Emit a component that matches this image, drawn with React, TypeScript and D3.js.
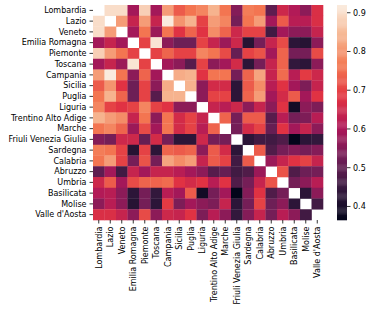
import * as d3 from "d3";

const regions = [
  "Lombardia", "Lazio", "Veneto", "Emilia Romagna", "Piemonte", "Toscana",
  "Campania", "Sicilia", "Puglia", "Liguria", "Trentino Alto Adige", "Marche",
  "Friuli Venezia Giulia", "Sardegna", "Calabria", "Abruzzo", "Umbria",
  "Basilicata", "Molise", "Valle d'Aosta",
];

// upper triangle: row i = correlation of region i with regions i+1..end
const upper: number[][] = [
  [0.90, 0.90, 0.59, 0.88, 0.59, 0.81, 0.73, 0.76, 0.78, 0.84, 0.76, 0.55, 0.77, 0.76, 0.50, 0.65, 0.61, 0.56, 0.67],
  [0.81, 0.64, 0.81, 0.64, 0.92, 0.80, 0.84, 0.70, 0.81, 0.78, 0.53, 0.76, 0.81, 0.59, 0.73, 0.62, 0.62, 0.67],
  [0.59, 0.76, 0.58, 0.76, 0.68, 0.74, 0.68, 0.79, 0.74, 0.65, 0.70, 0.70, 0.46, 0.59, 0.56, 0.56, 0.64],
  [0.70, 0.91, 0.56, 0.52, 0.52, 0.70, 0.64, 0.58, 0.65, 0.42, 0.53, 0.64, 0.71, 0.43, 0.42, 0.56],
  [0.70, 0.74, 0.70, 0.70, 0.78, 0.76, 0.71, 0.51, 0.70, 0.72, 0.59, 0.74, 0.53, 0.53, 0.71],
  [0.59, 0.56, 0.49, 0.70, 0.56, 0.59, 0.66, 0.43, 0.53, 0.64, 0.74, 0.44, 0.43, 0.56],
  [0.83, 0.84, 0.68, 0.76, 0.76, 0.53, 0.74, 0.82, 0.64, 0.75, 0.62, 0.69, 0.65],
  [0.84, 0.56, 0.66, 0.66, 0.43, 0.73, 0.79, 0.62, 0.68, 0.59, 0.54, 0.64],
  [0.56, 0.70, 0.70, 0.43, 0.74, 0.81, 0.59, 0.66, 0.73, 0.59, 0.68],
  [0.64, 0.62, 0.65, 0.56, 0.64, 0.56, 0.68, 0.39, 0.56, 0.54],
  [0.74, 0.53, 0.73, 0.73, 0.49, 0.62, 0.53, 0.54, 0.62],
  [0.53, 0.66, 0.70, 0.51, 0.68, 0.59, 0.64, 0.56],
  [0.43, 0.46, 0.46, 0.48, 0.365, 0.43, 0.44],
  [0.73, 0.48, 0.53, 0.55, 0.53, 0.55],
  [0.58, 0.64, 0.68, 0.70, 0.64],
  [0.72, 0.48, 0.52, 0.53],
  [0.53, 0.56, 0.62],
  [0.43, 0.56],
  [0.46],
  [],
];

const colorbarTicks = [0.4, 0.5, 0.6, 0.7, 0.8, 0.9];

// seaborn "rocket"
const rocketStops = ["#03051a", "#35193e", "#701f57", "#ad1759", "#e13342", "#f37651", "#f6b48f", "#faebdd"];
const rocket = d3.piecewise(d3.interpolateRgb, rocketStops);

const width = 374;
const height = 314;
const left = 93;
const right = 323;
const top = 5;
const bottom = 220;
const font = "'DejaVu Sans', sans-serif";

export default function App() {
  const n = regions.length;
  // full symmetric matrix, diagonal left empty (masked)
  const cells: { i: number; j: number; v: number }[] = [];
  upper.forEach((row, i) => {
    row.forEach((v, k) => {
      const j = i + 1 + k;
      cells.push({ i, j, v });
      cells.push({ i: j, j: i, v });
    });
  });

  const x = d3.scaleBand().domain(regions).range([left, right]);
  const y = d3.scaleBand().domain(regions).range([top, bottom]);
  const vals = cells.map((c) => c.v);
  const vmin = d3.min(vals)!;
  const vmax = d3.max(vals)!;
  const color = d3.scaleSequential(rocket).domain([vmin, vmax]);

  const cbX = 337;
  const cbW = 10;
  const cbY = d3.scaleLinear().domain([vmin, vmax]).range([bottom, top]);
  const steps = d3.range(200).map((k) => vmin + ((vmax - vmin) * k) / 200);
  const stepH = (bottom - top) / 200;

  return (
    <div style={{ position: "absolute", left: 0, top: 0 }}>
      <svg width={width} height={height} style={{ display: "block", background: "#fff" }}>
        <g>
          {cells.map((c) => (
            <rect
              key={`${c.i}-${c.j}`}
              x={x(regions[c.j])}
              y={y(regions[c.i])}
              width={x.bandwidth() + 0.3}
              height={y.bandwidth() + 0.3}
              fill={color(c.v)}
            />
          ))}
        </g>
        {/* y axis */}
        <g fontFamily={font} fontSize={8} fill="#000">
          {regions.map((r) => {
            const cy = y(r)! + y.bandwidth() / 2;
            return (
              <g key={r}>
                <line x1={left - 3.5} x2={left} y1={cy} y2={cy} stroke="#000" strokeWidth={0.8} />
                <text x={left - 6.5} y={cy} dy="0.35em" textAnchor="end">{r}</text>
              </g>
            );
          })}
        </g>
        {/* x axis */}
        <g fontFamily={font} fontSize={8} fill="#000">
          {regions.map((r) => {
            const cx = x(r)! + x.bandwidth() / 2;
            return (
              <g key={r}>
                <line x1={cx} x2={cx} y1={bottom} y2={bottom + 3.5} stroke="#000" strokeWidth={0.8} />
                <text
                  transform={`translate(${cx},${bottom + 6.5}) rotate(-90)`}
                  dy="0.35em"
                  textAnchor="end"
                >
                  {r}
                </text>
              </g>
            );
          })}
        </g>
        {/* colorbar */}
        <g>
          {steps.map((s, k) => (
            <rect
              key={k}
              x={cbX}
              y={bottom - (k + 1) * stepH}
              width={cbW}
              height={stepH + 0.3}
              fill={color(s + (vmax - vmin) / 400)}
            />
          ))}
        </g>
        <g fontFamily={font} fontSize={8} fill="#000">
          {colorbarTicks.map((t) => (
            <g key={t}>
              <line x1={cbX + cbW} x2={cbX + cbW + 3.5} y1={cbY(t)} y2={cbY(t)} stroke="#000" strokeWidth={0.8} />
              <text x={cbX + cbW + 6} y={cbY(t)} dy="0.35em">{t.toFixed(1)}</text>
            </g>
          ))}
        </g>
      </svg>
    </div>
  );
}
